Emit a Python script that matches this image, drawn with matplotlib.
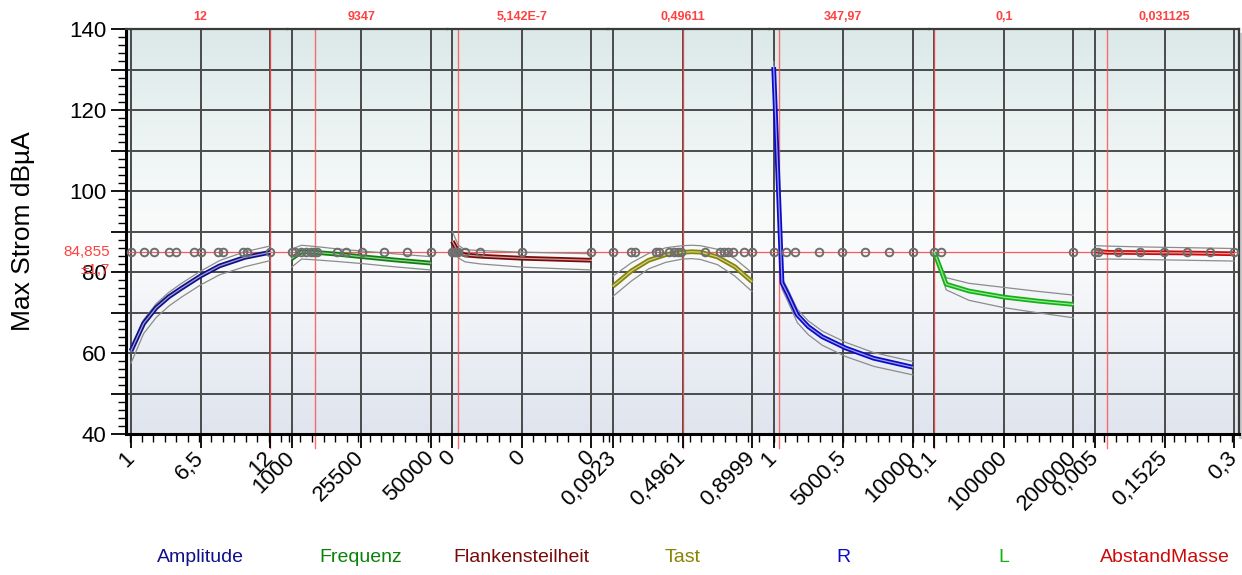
import matplotlib
matplotlib.use("Agg")
import matplotlib.pyplot as plt
import numpy as np
from matplotlib.colors import LinearSegmentedColormap
from matplotlib.patches import Rectangle
from matplotlib.ticker import FixedLocator, FuncFormatter, MultipleLocator

plt.rcParams["font.family"] = ["Liberation Sans", "DejaVu Sans"]

Y_LABEL = "Max Strom dBµA"
CURRENT_Y = 84.855
CURRENT_Y_TEXT = "84,855"
CI_TEXT = "±1,7"

names = ["Amplitude", "Frequenz", "Flankensteilheit", "Tast", "R", "L", "AbstandMasse"]
colors = ["#10108a", "#0a820a", "#7a0a0a", "#878400", "#0a0ac8", "#10b410", "#cc0a0a"]
current_vals = [12, 9347, 5.142e-7, 0.49611, 347.97, 0.1, 0.031125]
current_text = ["12", "9347", "5,142E-7", "0,49611", "347,97", "0,1", "0,031125"]
x_ranges = [(1, 12), (1000, 50000), (0, 1.2e-5), (0.0923, 0.8999), (1, 10000), (0.1, 200000), (0.005, 0.3)]
tick_labels = [
    ["1", "6,5", "12"],
    ["1000", "25500", "50000"],
    ["0", "0", "0"],
    ["0,0923", "0,4961", "0,8999"],
    ["1", "5000,5", "10000"],
    ["0,1", "100000", "200000"],
    ["0,005", "0,1525", "0,3"],
]

amp_x = [1, 2, 3, 4, 5, 6.5, 8, 10, 12]
amp_y = [60.5, 67.3, 71.2, 73.9, 76.0, 79.0, 81.5, 83.6, 84.855]
amp_hi = [61.2, 68.2, 72.2, 75.0, 77.2, 80.2, 82.8, 85.0, 86.4]
amp_lo = [57.5, 64.8, 68.8, 71.6, 73.8, 76.8, 79.3, 81.3, 82.8]
amp_pts = [1, 2, 2.8, 4, 4.6, 6, 6.5, 7.9, 8.3, 9.9, 10.2, 12]

freq_x = [1000, 4500, 9347, 17000, 25500, 37000, 50000]
freq_y = [83.3, 85.0, 84.855, 84.4, 83.8, 83.0, 82.2]
freq_hi = [85.7, 86.6, 86.3, 85.7, 85.2, 84.5, 83.8]
freq_lo = [81.2, 83.2, 83.0, 82.6, 82.1, 81.3, 80.5]
freq_pts = [1000, 2300, 4200, 5900, 7700, 8900, 10000, 16900, 20000, 25800, 33700, 41600, 50000]

flank_x = [0, 5.142e-7, 1.1e-6, 2.4e-6, 6e-6, 1.2e-5]
flank_y = [87.6, 84.855, 84.2, 83.9, 83.4, 82.9]
flank_hi = [90.0, 86.6, 85.5, 85.3, 84.9, 84.5]
flank_lo = [86.5, 83.5, 82.5, 82.0, 81.2, 80.5]
flank_pts = [0, 1.5e-7, 3e-7, 5.142e-7, 1.1e-6, 2.4e-6, 6e-6, 1.2e-5]

tast_x = [0.0923, 0.2, 0.3, 0.4, 0.4961, 0.55, 0.6, 0.7, 0.8, 0.8999]
tast_y = [76.5, 80.3, 82.9, 84.3, 84.855, 85.0, 84.9, 83.7, 81.3, 77.6]
tast_hi = [79.0, 82.3, 84.6, 86.0, 86.5, 86.6, 86.5, 85.6, 83.3, 79.8]
tast_lo = [74.0, 77.8, 80.8, 82.4, 83.2, 83.3, 83.1, 81.8, 79.0, 75.2]
tast_pts = [0.0923, 0.196, 0.221, 0.342, 0.361, 0.420, 0.449, 0.469, 0.489,
            0.625, 0.713, 0.736, 0.761, 0.790, 0.853, 0.8999]

r_x = [1, 600, 1000, 1700, 2500, 3500, 5200, 7200, 10000]
r_y = [130.6, 77.3, 74.6, 69.4, 66.5, 64.0, 61.2, 58.7, 56.5]
r_hi = [132.0, 78.5, 75.9, 70.8, 67.9, 65.4, 62.6, 60.1, 57.9]
r_lo = [129.5, 75.8, 72.9, 67.5, 64.5, 61.9, 59.1, 56.7, 54.6]
r_pts = [1, 900, 1530, 3290, 4940, 6570, 8270, 10000]

l_x = [0.1, 17000, 50000, 100000, 150000, 200000]
l_y = [84.855, 77.0, 75.3, 73.8, 72.8, 72.0]
l_hi = [84.9, 78.6, 77.2, 76.2, 75.2, 74.3]
l_lo = [84.8, 75.6, 73.0, 71.2, 69.9, 68.7]
l_pts = [0.1, 10000, 200000]

abst_x = [0.005, 0.031125, 0.1, 0.2, 0.3]
abst_y = [85.2, 84.855, 84.8, 84.7, 84.5]
abst_hi = [86.5, 86.4, 86.2, 86.0, 85.8]
abst_lo = [83.1, 83.2, 83.1, 82.9, 82.7]
abst_pts = [0.005, 0.012, 0.053, 0.101, 0.151, 0.2, 0.249, 0.3]

curves = [
    (amp_x, amp_y, amp_hi, amp_lo, amp_pts),
    (freq_x, freq_y, freq_hi, freq_lo, freq_pts),
    (flank_x, flank_y, flank_hi, flank_lo, flank_pts),
    (tast_x, tast_y, tast_hi, tast_lo, tast_pts),
    (r_x, r_y, r_hi, r_lo, r_pts),
    (l_x, l_y, l_hi, l_lo, l_pts),
    (abst_x, abst_y, abst_hi, abst_lo, abst_pts),
]

# --- layout (pixels) -----------------------------------------------------
W, H = 1242, 575
PLOT_L, PLOT_T, PLOT_B = 126, 29, 434
PANEL_W = 160.67
DATA_W = 139
PAD_L = 5
LAST_W = 149

fig = plt.figure(figsize=(W / 100, H / 100), dpi=100)
total_w = 6 * PANEL_W + LAST_W

# shadow + gradient background behind all panels
fig.add_artist(Rectangle(((PLOT_L + total_w) / W, 1 - (PLOT_B + 4) / H), 4 / W, (PLOT_B - PLOT_T) / H,
                         transform=fig.transFigure, color="#c9c9c9", zorder=0))
bg = fig.add_axes([PLOT_L / W, 1 - PLOT_B / H, total_w / W, (PLOT_B - PLOT_T) / H], zorder=0)
cmap = LinearSegmentedColormap.from_list(
    "bg", [(0.0, "#dfe4ee"), (0.45, "#fafbfc"), (0.55, "#f8fafa"), (1.0, "#dce9e9")])
bg.imshow(np.linspace(0, 1, 256)[:, None], cmap=cmap, aspect="auto",
          extent=[0, 1, 0, 1], origin="lower")
bg.axis("off")

for i, (name, col) in enumerate(zip(names, colors)):
    xs, ys, hi, lo, pts = curves[i]
    w = LAST_W if i == 6 else PANEL_W
    ax = fig.add_axes([(PLOT_L + i * PANEL_W) / W, 1 - PLOT_B / H, w / W, (PLOT_B - PLOT_T) / H], zorder=1)
    ax.set_facecolor("none")
    xmin, xmax = x_ranges[i]
    span = xmax - xmin
    ax.set_xlim(xmin - PAD_L / DATA_W * span, xmin + (w - PAD_L) / DATA_W * span)
    ax.set_ylim(40, 140)

    ticks = [xmin, xmin + span / 2, xmax]
    ax.xaxis.set_major_locator(FixedLocator(ticks))
    ax.xaxis.set_minor_locator(MultipleLocator(span / 12))
    ax.set_xticklabels(tick_labels[i], rotation=45, ha="right", va="center",
                       rotation_mode="anchor", fontsize=16)
    ax.tick_params(axis="x", which="major", length=10, width=1.3, pad=5)
    ax.tick_params(axis="x", which="minor", length=6, width=1.0)

    ax.yaxis.set_major_locator(MultipleLocator(10))
    ax.yaxis.set_minor_locator(MultipleLocator(2))
    if i == 0:
        ax.yaxis.set_major_formatter(FuncFormatter(lambda v, _: f"{v:.0f}" if v % 20 == 0 else ""))
        ax.tick_params(axis="y", which="major", length=11, width=1.3, labelsize=16, pad=3)
        ax.tick_params(axis="y", which="minor", length=6, width=1.0)
    else:
        ax.tick_params(axis="y", which="both", left=False, labelleft=False)

    for side in ("left", "right"):
        ax.spines[side].set_visible(False)
    ax.spines["top"].set_color("#3a3a3a")
    ax.spines["top"].set_linewidth(1.6)
    ax.spines["bottom"].set_linewidth(2.2)
    if i == 0:
        ax.spines["left"].set_visible(True)
        ax.spines["left"].set_linewidth(2.2)
    if i == 6:
        ax.spines["right"].set_visible(True)
        ax.spines["right"].set_color("#3a3a3a")
        ax.spines["right"].set_linewidth(1.6)

    # grid
    for yv in range(40, 141, 10):
        ax.axhline(yv, color="#1e1e1e", lw=1.1, zorder=0.5)
    for tv in ticks:
        ax.axvline(tv, color="#4a4a4a", lw=1.4, zorder=0.6)

    # current settings
    ax.axhline(CURRENT_Y, color="#ff5a5a", lw=0.9, zorder=1)
    ax.axvline(current_vals[i], ymin=-0.035, ymax=1, color="#ff4a4a", lw=1.0,
               alpha=0.8, zorder=1, clip_on=False)

    # confidence bands + prediction trace
    ax.plot(xs, hi, color="#8c8c8c", lw=0.9, zorder=2)
    ax.plot(xs, lo, color="#8c8c8c", lw=0.9, zorder=2)
    ax.plot(xs, ys, color=col, lw=3.4, zorder=3, solid_capstyle="butt")
    ax.plot(xs, ys, color="white", lw=0.9, alpha=0.6, zorder=3.1)

    ax.plot(pts, [CURRENT_Y] * len(pts), "o", ms=5.5, mfc="none", mec="#6e6e6e",
            mew=1.4, zorder=4, clip_on=False)

    tr = ax.get_xaxis_transform()
    ax.text(xmin + span / 2, 1.03, current_text[i], transform=tr, ha="center", va="center",
            color="#ff4040", fontsize=9, fontweight="bold")
    ax.text(xmin + span / 2, -0.306, name, transform=tr, ha="center", va="center",
            color=col, fontsize=14)

    if i == 0:
        ax.annotate(CURRENT_Y_TEXT, xy=(0, CURRENT_Y), xycoords=ax.get_yaxis_transform(),
                    xytext=(-11.5, 0), textcoords="offset points", ha="right", va="center",
                    color="#ff4040", fontsize=11)
        ax.annotate(CI_TEXT, xy=(0, CURRENT_Y), xycoords=ax.get_yaxis_transform(),
                    xytext=(-11.5, -13), textcoords="offset points", ha="right", va="center",
                    color="#ff4040", fontsize=11)

fig.text(23 / W, 1 - 231 / H, Y_LABEL, rotation=90, ha="center", va="center", fontsize=19)

fig.savefig("out.png", dpi=100)
